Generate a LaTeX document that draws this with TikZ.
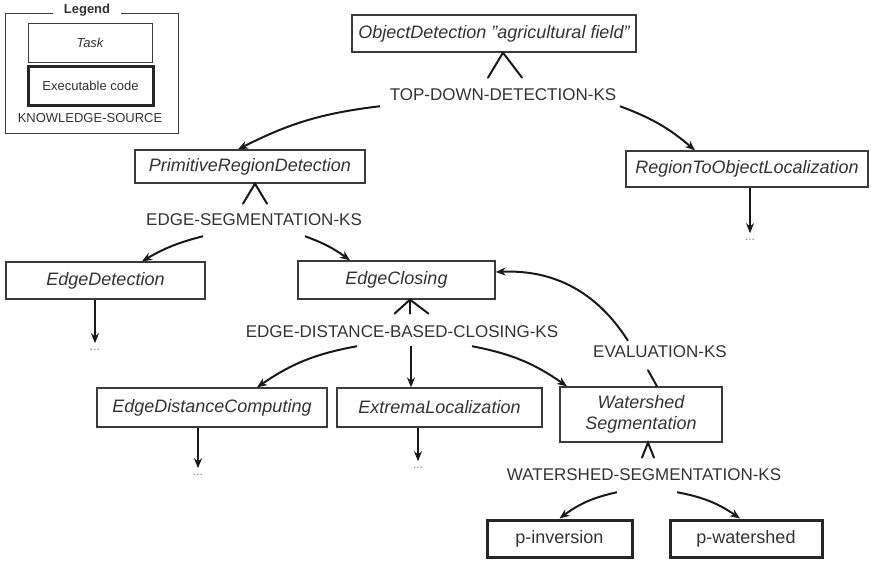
\documentclass[tikz,border=0pt]{standalone}
\usepackage{fontspec}
\setmainfont{Liberation Sans}
\usetikzlibrary{arrows.meta}
\definecolor{inkgray}{HTML}{333333}
\definecolor{boxgray}{HTML}{3A3A3A}

\begin{document}
\begin{tikzpicture}[x=1pt,y=-1pt,
    task/.style={draw=boxgray, line width=1.3pt, fill=white, text=inkgray, inner sep=0pt,
      font=\fontsize{18}{21}\selectfont\itshape, minimum height=37pt},
    code/.style={draw=black!85, line width=3pt, fill=white, text=inkgray, inner sep=0pt,
      font=\fontsize{18}{21}\selectfont, minimum height=37pt},
    ks/.style={text=inkgray, inner sep=0pt, font=\fontsize{17}{20}\selectfont},
    more/.style={text=gray, inner sep=6pt, font=\fontsize{12}{14}\selectfont},
    small/.style={font=\fontsize{13}{15}\selectfont},
    arr/.style={-{Stealth[length=10pt,width=8pt]}, line width=2pt, black!90},
    fork/.style={line width=2pt, black!90, line cap=round}]
    \useasboundingbox (0,0) rectangle (871,562);

    % legend
    \draw[boxgray, line width=1pt] (5,13) rectangle (178,133);
    \node[fill=white, text=inkgray, inner xsep=11pt, inner ysep=1pt, font=\fontsize{13}{15}\selectfont\bfseries] (legtitle) at (87,10) {Legend};
    \node[task, font=\fontsize{13}{15}\selectfont\itshape, line width=1pt, minimum width=124pt, minimum height=39pt] (legtask) at (90,42.5) {Task};
    \node[code, small, minimum width=125pt, minimum height=39pt] (legcode) at (90.5,85.5) {Executable code};
    \node[ks, small] (legks) at (90,118) {KNOWLEDGE-SOURCE};

    % tasks
    \node[task, minimum width=284pt] (obj) at (494,33.5) {ObjectDetection \char34 agricultural field\char34};
    \node[task, minimum width=230pt, minimum height=33pt] (prd) at (250,166.5) {PrimitiveRegionDetection};
    \node[task, minimum width=242pt, minimum height=36pt] (rol) at (747,169) {RegionToObjectLocalization};
    \node[task, minimum width=199pt] (ed) at (105.5,280.5) {EdgeDetection};
    \node[task, minimum width=197pt, minimum height=38pt] (ec) at (396.5,280) {EdgeClosing};
    \node[task, minimum width=230pt, minimum height=39pt] (edc) at (212,407.5) {EdgeDistanceComputing};
    \node[task, minimum width=205pt, minimum height=39pt] (el) at (439.5,407.5) {ExtremaLocalization};
    \node[task, minimum width=162pt, minimum height=55pt, align=center] (ws) at (641,414.5) {Watershed\\Segmentation};
    \node[code, minimum width=145pt] (pinv) at (559.5,538.5) {p-inversion};
    \node[code, minimum width=152pt] (pws) at (746,538.5) {p-watershed};

    % knowledge sources
    \node[ks] (tdks) at (503,95) {TOP-DOWN-DETECTION-KS};
    \node[ks] (esks) at (254,220) {EDGE-SEGMENTATION-KS};
    \node[ks] (edcks) at (402,332) {EDGE-DISTANCE-BASED-CLOSING-KS};
    \node[ks] (evks) at (660,352) {EVALUATION-KS};
    \node[ks] (wsks) at (644,475) {WATERSHED-SEGMENTATION-KS};

    \node[more] (rold) at (750,240) {...};
    \node[more] (edd) at (95,350) {...};
    \node[more] (edcd) at (198,475) {...};
    \node[more] (eld) at (418,468) {...};

    % forks
    \draw[fork] ([xshift=-6pt,yshift=-25pt]obj.south) -- ([xshift=9pt]obj.south) -- ([xshift=28pt,yshift=-25pt]obj.south);
    \draw[fork] ([xshift=-7pt,yshift=-20pt]prd.south) -- ([xshift=5pt]prd.south) -- ([xshift=17pt,yshift=-20pt]prd.south);
    \draw[fork] ([xshift=-2pt,yshift=-14pt]ec.south) -- ([xshift=13.5pt]ec.south) -- ([xshift=32pt,yshift=-14pt]ec.south);
    \draw[fork] ([xshift=13.5pt]ec.south) -- ([xshift=13.5pt,yshift=-14pt]ec.south);
    \draw[fork] ([xshift=1pt,yshift=-15pt]ws.south) -- ([xshift=7pt]ws.south) -- ([xshift=13pt,yshift=-15pt]ws.south);
    \draw[fork] ([xshift=16pt]ws.north) -- ([xshift=-12pt,yshift=-12pt]evks.south);

    % decompositions
    \draw[arr] ([xshift=-123pt,yshift=-5pt]tdks.south) to[bend right=10] ([xshift=-12pt]prd.north);
    \draw[arr] ([xshift=117pt,yshift=-5pt]tdks.south) to[bend left=10] ([xshift=-52pt]rol.north);
    \draw[arr] ([xshift=-51pt,yshift=-10pt]esks.south) to[bend right=8] ([xshift=36.5pt]ed.north);
    \draw[arr] ([xshift=51pt,yshift=-10pt]esks.south) to[bend left=8] ([xshift=-46.5pt]ec.north);
    \draw[arr] ([xshift=-45pt,yshift=-8pt]edcks.south) to[bend right=12] ([xshift=45pt]edc.north);
    \draw[arr] ([xshift=9pt,yshift=-8pt]edcks.south) -- ([xshift=-28.5pt]el.north);
    \draw[arr] ([xshift=70pt,yshift=-8pt]edcks.south) to[bend left=12] ([xshift=-74pt]ws.north);
    \draw[arr] ([xshift=-32pt,yshift=5pt]evks.north) to[bend right=30] ([yshift=8pt]ec.east);
    \draw[arr] ([xshift=-27pt,yshift=-11pt]wsks.south) to[bend right=12] (pinv.north);
    \draw[arr] ([xshift=33pt,yshift=-11pt]wsks.south) to[bend left=12] ([xshift=-6pt]pws.north);

    \draw[arr] ([xshift=3pt]rol.south) -- (rold);
    \draw[arr] ([xshift=-10.5pt]ed.south) -- (edd);
    \draw[arr] ([xshift=-14pt]edc.south) -- (edcd);
    \draw[arr] ([xshift=-21.5pt]el.south) -- (eld);
\end{tikzpicture}
\end{document}
